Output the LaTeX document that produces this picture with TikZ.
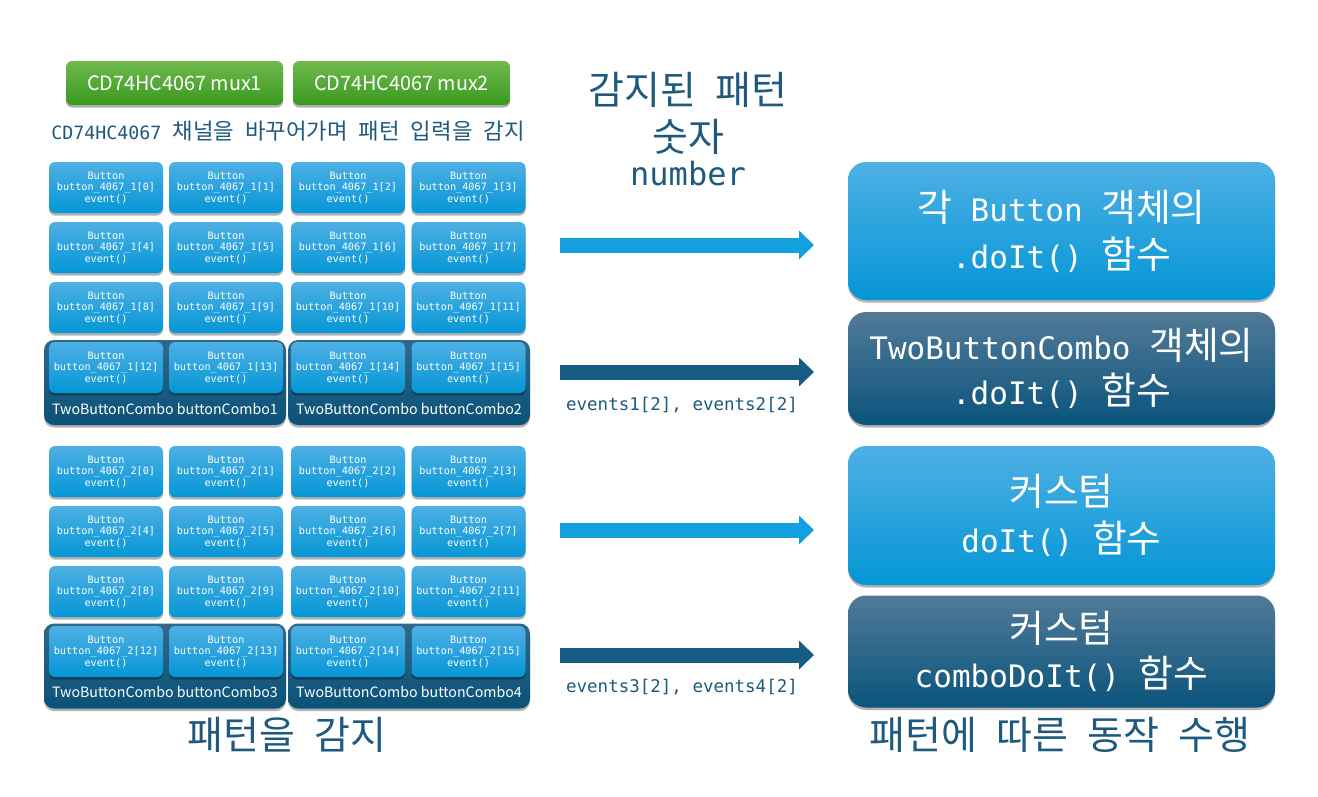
\documentclass[tikz,border=0pt]{standalone}
\usepackage{fontspec}
\setmainfont{DejaVu Sans Mono}
\newfontfamily\kr[Scale=1.22]{Noto Sans CJK KR}
\newfontfamily\sn{Noto Sans CJK KR}
\newcommand\K[1]{{\kr #1}}
\newcommand\fs[2]{\fontsize{#1}{#2}\selectfont}
\usetikzlibrary{shadows,arrows.meta}
\definecolor{tcol}{RGB}{30,90,125}
\definecolor{lbtop}{RGB}{78,176,228}
\definecolor{lbbot}{RGB}{4,150,214}
\definecolor{dbtop}{RGB}{82,122,152}
\definecolor{dbbot}{RGB}{10,84,124}
\definecolor{cbtop}{RGB}{50,104,138}
\definecolor{cbbot}{RGB}{10,82,120}
\definecolor{grtop}{RGB}{112,186,78}
\definecolor{grbot}{RGB}{56,152,30}
\definecolor{arl}{RGB}{20,160,222}
\definecolor{ard}{RGB}{22,92,130}
\tikzset{
  shad/.style={drop shadow={shadow xshift=0pt,shadow yshift=-2.5pt,opacity=0.3,fill=black}},
  btn/.style={shad,rounded corners=6pt,minimum width=114pt,minimum height=51pt,inner sep=0pt,
    top color=lbtop,bottom color=lbbot,text=white,align=center,font=\fs{10.2}{11.5}},
  combo/.style={shad,rounded corners=10pt,minimum width=242pt,minimum height=85pt,inner sep=0pt,
    top color=cbtop,bottom color=cbbot},
  combolbl/.style={text=white,font=\sn\fs{14.2}{17}},
  mux/.style={shad,rounded corners=6pt,minimum width=217pt,minimum height=44pt,inner sep=0pt,
    top color=grtop,bottom color=grbot,text=white,font=\sn\fs{19.8}{23}},
  rlight/.style={shad,rounded corners=18pt,minimum width=427pt,inner sep=0pt,
    top color=lbtop,bottom color=lbbot,text=white,align=center,font=\fs{31}{47}},
  rdark/.style={shad,rounded corners=18pt,minimum width=427pt,inner sep=0pt,
    top color=dbtop,bottom color=dbbot,text=white,align=center,font=\fs{31}{45}},
  ttl/.style={text=tcol,align=center},
  arrlight/.style={draw=arl,line width=15pt,-{Triangle[length=15pt,width=28pt]}},
  arrdark/.style={draw=ard,line width=15pt,-{Triangle[length=15pt,width=28pt]}},
}
\begin{document}
\begin{tikzpicture}[x=1pt,y=-1pt]
\path[fill=white,use as bounding box] (0,0) rectangle (1318,796);

% mux boxes
\node[mux] (mux1) at (174.5,83) {CD74HC4067 mux1};
\node[mux] (mux2) at (401.5,83) {CD74HC4067 mux2};
\node[ttl,font=\fs{18.3}{20}] (scan) at (288,131) {CD74HC4067 \K{채널을} \K{바꾸어가며} \K{패턴} \K{입력을} \K{감지}};

% combo groups
\node[combo] (cb1) at (165,382.5) {};
\node[combo] (cb2) at (409,382.5) {};
\node[combo] (cb3) at (165,666) {};
\node[combo] (cb4) at (409,666) {};
\node[combolbl] (cl1) at (165,409) {TwoButtonCombo buttonCombo1};
\node[combolbl] (cl2) at (409,409) {TwoButtonCombo buttonCombo2};
\node[combolbl] (cl3) at (165,692) {TwoButtonCombo buttonCombo3};
\node[combolbl] (cl4) at (409,692) {TwoButtonCombo buttonCombo4};

% buttons
\foreach \s/\y in {1/187.5,2/471.5}{
  \foreach \r in {0,...,3}{
    \foreach \c in {0,...,3}{
      \pgfmathsetmacro{\bx}{{106,226,348,468.5}[\c]}
      \pgfmathsetmacro{\by}{\y+60*\r}
      \pgfmathtruncatemacro{\i}{4*\r+\c}
      \node[btn] (b\s-\i) at (\bx,\by) {Button\\button\_4067\_\s[\i]\\event()};
    }
  }
}

\node[ttl,font=\fs{32}{36}] (detect) at (287,735) {\K{패턴을} \K{감지}};

% middle titles
\node[ttl,font=\fs{32}{38}] (mt1) at (688,90) {\K{감지된} \K{패턴}};
\node[ttl,font=\fs{32}{38}] (mt2) at (688,137) {\K{숫자}};
\node[ttl,font=\fs{32}{36}] (mt3) at (688,174) {number};

% arrows
\coordinate (a1s) at (560,245); \coordinate (a1e) at (814,245);
\coordinate (a2s) at (560,372); \coordinate (a2e) at (814,372);
\coordinate (a3s) at (560,530); \coordinate (a3e) at (814,530);
\coordinate (a4s) at (560,655); \coordinate (a4e) at (814,655);
\draw[arrlight] (a1s) -- (a1e);
\draw[arrdark] (a2s) -- (a2e);
\draw[arrlight] (a3s) -- (a3e);
\draw[arrdark] (a4s) -- (a4e);
\node[ttl,font=\fs{17.5}{20}] (ev12) at (682,405) {events1[2], events2[2]};
\node[ttl,font=\fs{17.5}{20}] (ev34) at (682,687) {events3[2], events4[2]};

% right boxes
\node[rlight,minimum height=138pt] (r1) at (1061.5,231) {\K{각} Button \K{객체의}\\.doIt() \K{함수}};
\node[rdark,minimum height=113pt] (r2) at (1061.5,368.5) {TwoButtonCombo \K{객체의}\\.doIt() \K{함수}};
\node[rlight,minimum height=139pt] (r3) at (1061.5,515.5) {\K{커스텀}\\doIt() \K{함수}};
\node[rdark,minimum height=112pt] (r4) at (1061.5,651.5) {\K{커스텀}\\comboDoIt() \K{함수}};

\node[ttl,font=\fs{32}{36}] (act) at (1060,735) {\K{패턴에} \K{따른} \K{동작} \K{수행}};
\end{tikzpicture}
\end{document}
